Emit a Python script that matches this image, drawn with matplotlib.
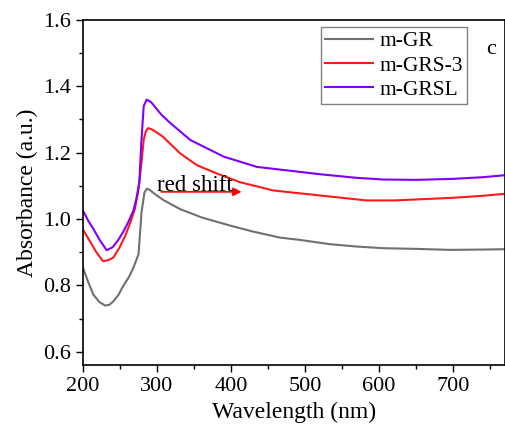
import matplotlib
matplotlib.use("Agg")
import matplotlib.pyplot as plt
from matplotlib.ticker import MultipleLocator

plt.rcParams['font.family'] = ['Liberation Serif', 'DejaVu Serif']

# m-GR (gray)
wl_gr = [200, 207, 214, 222, 230, 236, 241, 248, 254, 262, 268, 275, 279, 283, 286, 290,
         296, 308, 331, 360, 399, 430, 466, 493, 534, 570, 606, 650, 696, 740, 770]
ab_gr = [0.853, 0.81, 0.772, 0.75, 0.739, 0.742, 0.752, 0.772, 0.797, 0.825, 0.853, 0.894,
         1.02, 1.08, 1.091, 1.088, 1.077, 1.058, 1.030, 1.005, 0.980, 0.962, 0.944, 0.937,
         0.924, 0.917, 0.912, 0.910, 0.907, 0.908, 0.909]

# m-GRS-3 (red)
wl_grs = [200, 209, 218, 227, 234, 241, 249, 257, 264, 270, 275, 279, 282, 285, 288, 293,
          300, 308, 320, 331, 354, 381, 412, 457, 520, 583, 620, 651, 700, 740, 770]
ab_grs = [0.968, 0.934, 0.9, 0.873, 0.876, 0.884, 0.913, 0.949, 0.99, 1.03, 1.09, 1.17,
          1.24, 1.265, 1.274, 1.27, 1.26, 1.248, 1.222, 1.198, 1.162, 1.137, 1.111, 1.086,
          1.071, 1.056, 1.056, 1.059, 1.064, 1.070, 1.076]

# m-GRSL (purple)
wl_grsl = [200, 207, 214, 223, 232, 240, 247, 254, 261, 268, 272, 276, 279, 282, 286, 292,
           300, 306, 318, 345, 390, 435, 493, 520, 570, 606, 651, 700, 740, 770]
ab_grsl = [1.025, 0.995, 0.97, 0.935, 0.906, 0.915, 0.935, 0.96, 0.99, 1.025, 1.06, 1.11,
           1.24, 1.34, 1.36, 1.352, 1.33, 1.314, 1.289, 1.238, 1.188, 1.157, 1.142, 1.135,
           1.124, 1.119, 1.118, 1.121, 1.126, 1.132]

fig = plt.figure(figsize=(5.05, 4.33), dpi=100)
ax = fig.add_axes([0.1644, 0.157, 0.8356, 0.797])

ax.plot(wl_gr, ab_gr, color='#707070', lw=1.5, label='m-GR')
ax.plot(wl_grs, ab_grs, color='#ff1a1a', lw=1.5, label='m-GRS-3')
ax.plot(wl_grsl, ab_grsl, color='#7f00ff', lw=1.5, label='m-GRSL')

ax.annotate('', xy=(418, 1.082), xytext=(302, 1.082),
            arrowprops=dict(arrowstyle='-|>', color='red', lw=1.3, mutation_scale=12))
ax.text(300, 1.083, 'red shift', fontsize=16.5, ha='left', va='baseline')
ax.text(0.966, 0.913, 'c', transform=ax.transAxes, fontsize=16, ha='center', va='center')

ax.set_xlim(200, 770)
ax.set_ylim(0.56, 1.6)
ax.xaxis.set_major_locator(MultipleLocator(100))
ax.xaxis.set_minor_locator(MultipleLocator(50))
ax.yaxis.set_major_locator(MultipleLocator(0.2))
ax.yaxis.set_minor_locator(MultipleLocator(0.1))
ax.tick_params(which='both', direction='out', labelsize=16, width=1)
ax.tick_params(which='major', length=5)
ax.tick_params(which='minor', length=3)
for s in ax.spines.values():
    s.set_linewidth(1.2)

ax.set_xlabel('Wavelength (nm)', fontsize=17)
ax.set_ylabel('Absorbance (a.u.)', fontsize=17)

leg = ax.legend(loc='upper right', bbox_to_anchor=(0.91, 0.98), borderaxespad=0,
                fontsize=15.5, fancybox=False, edgecolor='#808080', framealpha=1,
                handlelength=2.2, borderpad=0.2, labelspacing=0.2, handletextpad=0.3)
leg.get_frame().set_linewidth(1.0)

fig.savefig('out.png', dpi=100)
